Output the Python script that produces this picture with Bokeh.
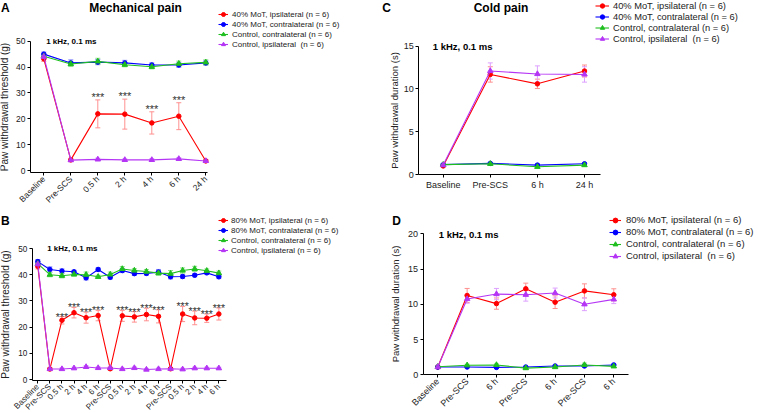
import math
from bokeh.plotting import figure
from bokeh.models import (ColumnDataSource, Whisker, TeeHead, Legend, LegendItem,
                          Label, FixedTicker, Range1d, LinearAxis)
from bokeh.embed import file_html
from bokeh.resources import INLINE
from bokeh.core.properties import value

FONT = "Liberation Sans"

# ---------------- data ----------------
A_cats = ["Baseline", "Pre-SCS", "0.5 h", "2 h", "4 h", "6 h", "24 h"]
A_red = [43.2, 4.1, 21.9, 21.8, 18.4, 21.0, 3.7]
A_red_err = [1.0, 0.6, 5.4, 5.8, 4.3, 5.2, 0.5]
A_blue = [45.0, 41.6, 41.9, 41.6, 40.8, 40.8, 41.6]
A_blue_err = [0.8, 1.2, 1.0, 1.0, 0.8, 0.9, 0.8]
A_green = [44.2, 41.2, 42.2, 40.9, 40.1, 41.3, 41.8]
A_green_err = [0.8, 1.0, 1.2, 0.8, 0.8, 1.0, 1.0]
A_purple = [44.0, 4.0, 4.3, 4.1, 4.1, 4.5, 3.7]
A_purple_err = [0.8, 0.5, 0.5, 0.4, 0.5, 0.5, 0.5]
A_sig = ["", "", "***", "***", "***", "***", ""]
A_labels = ["40% MoT, ipsilateral (n = 6)", "40% MoT, contralateral (n = 6)",
            "Control, contralateral (n = 6)", "Control, ipsilateral  (n = 6)"]

B_cats = ["Baseline", "Pre-SCS", "0.5 h", "2 h", "4 h", "6 h",
          "Pre-SCS", "0.5 h", "2 h", "4 h", "6 h",
          "Pre-SCS", "0.5 h", "2 h", "4 h", "6 h"]
B_red = [43.2, 4.0, 22.6, 25.5, 23.6, 24.4, 4.1, 24.3, 23.9, 24.8, 24.1, 4.1, 25.0, 23.5, 23.4, 25.0]
B_red_err = [1.0, 0.5, 1.4, 2.0, 2.1, 2.0, 0.5, 2.1, 2.0, 2.4, 2.5, 0.5, 2.9, 2.6, 1.6, 2.3]
B_blue = [45.0, 42.0, 41.4, 41.1, 38.8, 42.0, 39.0, 41.6, 40.4, 40.5, 41.0, 39.2, 39.3, 39.8, 40.7, 39.2]
B_blue_err = [0.8, 1.0, 0.8, 0.6, 0.8, 0.6, 0.7, 0.8, 0.7, 0.7, 1.0, 0.8, 0.7, 0.6, 0.6, 0.7]
B_green = [44.2, 40.0, 39.6, 40.1, 40.0, 39.2, 40.1, 42.2, 41.6, 41.2, 40.6, 40.4, 41.6, 42.2, 41.5, 40.6]
B_green_err = [0.8, 0.8, 0.8, 0.6, 1.0, 0.6, 0.9, 0.9, 0.7, 0.8, 0.8, 1.2, 1.0, 1.0, 0.7, 0.8]
B_purple = [44.0, 4.0, 4.0, 4.3, 4.8, 4.4, 4.4, 4.0, 4.4, 3.8, 4.0, 4.1, 3.9, 4.3, 4.3, 4.3]
B_purple_err = [0.8, 0.4, 0.4, 0.4, 0.5, 0.4, 0.4, 0.4, 0.4, 0.4, 0.4, 0.4, 0.4, 0.4, 0.4, 0.4]
B_sig = ["", "", "***", "***", "***", "***", "", "***", "***", "***", "***",
         "", "***", "***", "***", "***"]
B_labels = ["80% MoT, ipsilateral (n = 6)", "80% MoT, contralateral (n = 6)",
            "Control, contralateral (n = 6)", "Control, ipsilateral (n = 6)"]

C_cats = ["Baseline", "Pre-SCS", "6 h", "24 h"]
C_red = [1.0, 11.7, 10.6, 12.1]
C_red_err = [0.1, 0.9, 0.55, 0.7]
C_blue = [1.15, 1.3, 1.1, 1.25]
C_blue_err = [0.08, 0.1, 0.1, 0.1]
C_green = [1.15, 1.25, 0.9, 1.1]
C_green_err = [0.08, 0.1, 0.1, 0.08]
C_purple = [1.1, 12.1, 11.75, 11.7]
C_purple_err = [0.1, 0.95, 0.95, 0.9]
C_labels = A_labels

D_cats = ["Baseline", "Pre-SCS", "6 h", "Pre-SCS", "6 h", "Pre-SCS", "6 h"]
D_red = [1.1, 11.25, 10.1, 12.2, 10.3, 11.9, 11.35]
D_red_err = [0.1, 1.0, 0.8, 0.8, 0.9, 1.0, 0.85]
D_blue = [1.1, 1.1, 1.05, 1.1, 1.25, 1.25, 1.4]
D_blue_err = [0.1, 0.1, 0.1, 0.1, 0.1, 0.1, 0.1]
D_green = [1.15, 1.35, 1.4, 0.95, 1.1, 1.4, 1.2]
D_green_err = [0.1, 0.15, 0.15, 0.15, 0.15, 0.25, 0.15]
D_purple = [1.1, 10.75, 11.45, 11.35, 11.6, 10.0, 10.7]
D_purple_err = [0.1, 0.6, 0.8, 0.9, 0.7, 0.9, 0.6]
D_labels = ["80% MoT, ipsilateral (n = 6)", "80% MoT, contralateral (n = 6)",
            "Control, contralateral (n = 6)", "Control, ipsilateral  (n = 6)"]

# ---------------- styles ----------------
RED, RED_E = "#ff0000", "#ff8f8f"
BLUE, BLUE_E = "#0000ff", "#8c8cff"
GREEN, GREEN_E = "#1fbf1f", "#8fdf8f"
PURPLE, PURPLE_E = "#b535f5", "#dda0ff"
TXT = "#222222"

W, H = 758, 413

p = figure(width=W, height=H, output_backend="svg", toolbar_location=None,
           x_range=Range1d(0, 1), y_range=Range1d(0, 1),
           x_axis_type=None, y_axis_type=None, min_border=0)
p.outline_line_color = None
p.background_fill_color = "white"
p.border_fill_color = "white"


def sx(ix):
    return ix


def sy(iy):
    return H - iy


def panel(name, cats, series, labels, sig, ylabel, px0, kx, py0, ky,
          xb, yb, yticks, rotate, tick_fs, sig_fs, sig_off, ylab_fs, ylab_off,
          note_xy, note_fs, leg_xy, leg_fs, gw, gh, lstand):
    # px0: image x of first category, kx px per category
    # py0: image y of value 0, ky px per unit
    xs0 = -px0 / kx
    p.extra_x_ranges["x" + name] = Range1d(xs0, xs0 + W / kx)
    ys0 = -(H - py0) / ky
    p.extra_y_ranges["y" + name] = Range1d(ys0, ys0 + H / ky)
    rn = dict(x_range_name="x" + name, y_range_name="y" + name)
    n = len(cats)
    xs = list(range(n))
    renders = []
    for (vals, errs, col, ecol, marker, msize) in series:
        src = ColumnDataSource(dict(x=xs, y=vals,
                                    upper=[v + e for v, e in zip(vals, errs)],
                                    lower=[v - e for v, e in zip(vals, errs)]))
        w = Whisker(base="x", upper="upper", lower="lower", source=src,
                    line_color=ecol, line_width=1,
                    upper_head=TeeHead(size=5, line_color=ecol, line_width=1),
                    lower_head=TeeHead(size=5, line_color=ecol, line_width=1), **rn)
        p.add_layout(w)
        ln = p.line("x", "y", source=src, line_color=col, line_width=1.1, **rn)
        sc = p.scatter("x", "y", source=src, marker=marker, size=msize,
                       fill_color=col, line_color=col, **rn)
        renders.append((ln, sc, src))
    if sig is not None:
        ssrc = ColumnDataSource(dict(x=xs, y=renders[0][2].data["upper"], t=sig))
        p.text("x", "y", text="t", source=ssrc, text_font=value(FONT),
               text_font_size=sig_fs, text_align="center",
               text_baseline="alphabetic", y_offset=sig_off, text_color="#333333", **rn)
    # axes
    xa = LinearAxis(fixed_location=yb[0], bounds=xb, ticker=FixedTicker(ticks=xs),
                    major_label_overrides={i: c for i, c in enumerate(cats)}, **rn)
    if rotate:
        xa.major_label_orientation = math.pi / 4
    ya = LinearAxis(fixed_location=xb[0], bounds=yb, ticker=FixedTicker(ticks=yticks),
                    axis_label=ylabel, **rn)
    for ax in (xa, ya):
        ax.axis_line_color = "black"
        ax.axis_line_width = 1
        ax.major_tick_line_color = "black"
        ax.major_tick_in = 0
        ax.major_tick_out = 3
        ax.minor_tick_line_color = None
        ax.major_label_text_font = FONT
        ax.major_label_text_font_size = tick_fs
        ax.major_label_text_color = TXT
        ax.major_label_standoff = 2
    ya.axis_label_text_font = FONT
    ya.axis_label_text_font_size = ylab_fs
    ya.axis_label_text_font_style = "normal"
    ya.axis_label_text_color = TXT
    ya.axis_label_standoff = ylab_off
    p.add_layout(xa, "below")
    p.add_layout(ya, "left")
    # note
    p.add_layout(Label(x=sx(note_xy[0]), y=sy(note_xy[1]), x_units="screen",
                       y_units="screen", text="1 kHz, 0.1 ms", text_font=FONT,
                       text_font_size=note_fs, text_font_style="bold",
                       text_baseline="middle", text_align="left", text_color="black"))
    # legend
    items = [LegendItem(label=lab, renderers=[r[0], r[1]]) for lab, r in zip(labels, renders)]
    lx, ltop = leg_xy
    lg = Legend(items=items, location=(sx(lx), sy(ltop + gh * len(items))),
                orientation="vertical", border_line_color=None, background_fill_alpha=0,
                padding=0, margin=0, spacing=0, glyph_width=gw, glyph_height=gh,
                label_height=gh, label_standoff=lstand, label_text_font=FONT,
                label_text_font_size=leg_fs, label_text_color=TXT)
    p.add_layout(lg)


def head(ix, iy, text, align):
    p.add_layout(Label(x=sx(ix), y=sy(iy), x_units="screen", y_units="screen",
                       text=text, text_font=FONT, text_font_size="12px",
                       text_font_style="bold", text_baseline="middle",
                       text_align=align, text_color="black"))


def ser(r, re, b, be, g, ge, pu, pe):
    return [(r, re, RED, RED_E, "circle", 4.5),
            (b, be, BLUE, BLUE_E, "circle", 4.5),
            (g, ge, GREEN, GREEN_E, "triangle", 5.5),
            (pu, pe, PURPLE, PURPLE_E, "triangle", 5.5)]


panel("A", A_cats, ser(A_red, A_red_err, A_blue, A_blue_err, A_green, A_green_err,
                       A_purple, A_purple_err), A_labels, A_sig,
      "Paw withdrawal threshold (g)", 43.3, 27.0, 170, 2.586,
      (-0.49, 6.07), (-0.77, 50), [0, 10, 20, 30, 40, 50], True, "8.5px", "11px", -3,
      "10px", 3,
      (45.7, 40.5), "8px", (218, 9), "8px", 10, 10, 4)

panel("B", B_cats, ser(B_red, B_red_err, B_blue, B_blue_err, B_green, B_green_err,
                       B_purple, B_purple_err), B_labels, B_sig,
      "Paw withdrawal threshold (g)", 37.3, 12.07, 379, 2.62,
      (-0.46, 15.64), (-0.4, 50), [0, 10, 20, 30, 40, 50], True, "8.2px", "10.5px", 0,
      "10px", 4,
      (46.7, 248), "8px", (218, 215), "8px", 10, 10, 3)

panel("C", C_cats, ser(C_red, C_red_err, C_blue, C_blue_err, C_green, C_green_err,
                       C_purple, C_purple_err), C_labels, None,
      "Paw withdrawal duration (s)", 442.7, 47.1, 174, 8.553,
      (-0.52, 3.35), (0, 15), [0, 5, 10, 15], False, "9px", "11px", 0,
      "9.5px", 0,
      (432.3, 46), "9.5px", (595, 0), "9.3px", 14, 11, 4)

panel("D", D_cats, ser(D_red, D_red_err, D_blue, D_blue_err, D_green, D_green_err,
                       D_purple, D_purple_err), D_labels, None,
      "Paw withdrawal duration (s)", 437.3, 29.33, 374.3, 7.05,
      (-0.5, 6.5), (0, 20), [0, 5, 10, 15, 20], True, "9px", "11px", 0,
      "9.5px", 4,
      (438.3, 234), "9.5px", (609, 213.5), "9.5px", 12, 12, 5)

head(0.5, 7, "A", "left")
head(135, 7, "Mechanical pain", "center")
head(0.5, 220, "B", "left")
head(381.7, 7, "C", "left")
head(500.5, 7.5, "Cold pain", "center")
head(391.7, 220, "D", "left")

open("out.html", "w").write(file_html(p, INLINE))
